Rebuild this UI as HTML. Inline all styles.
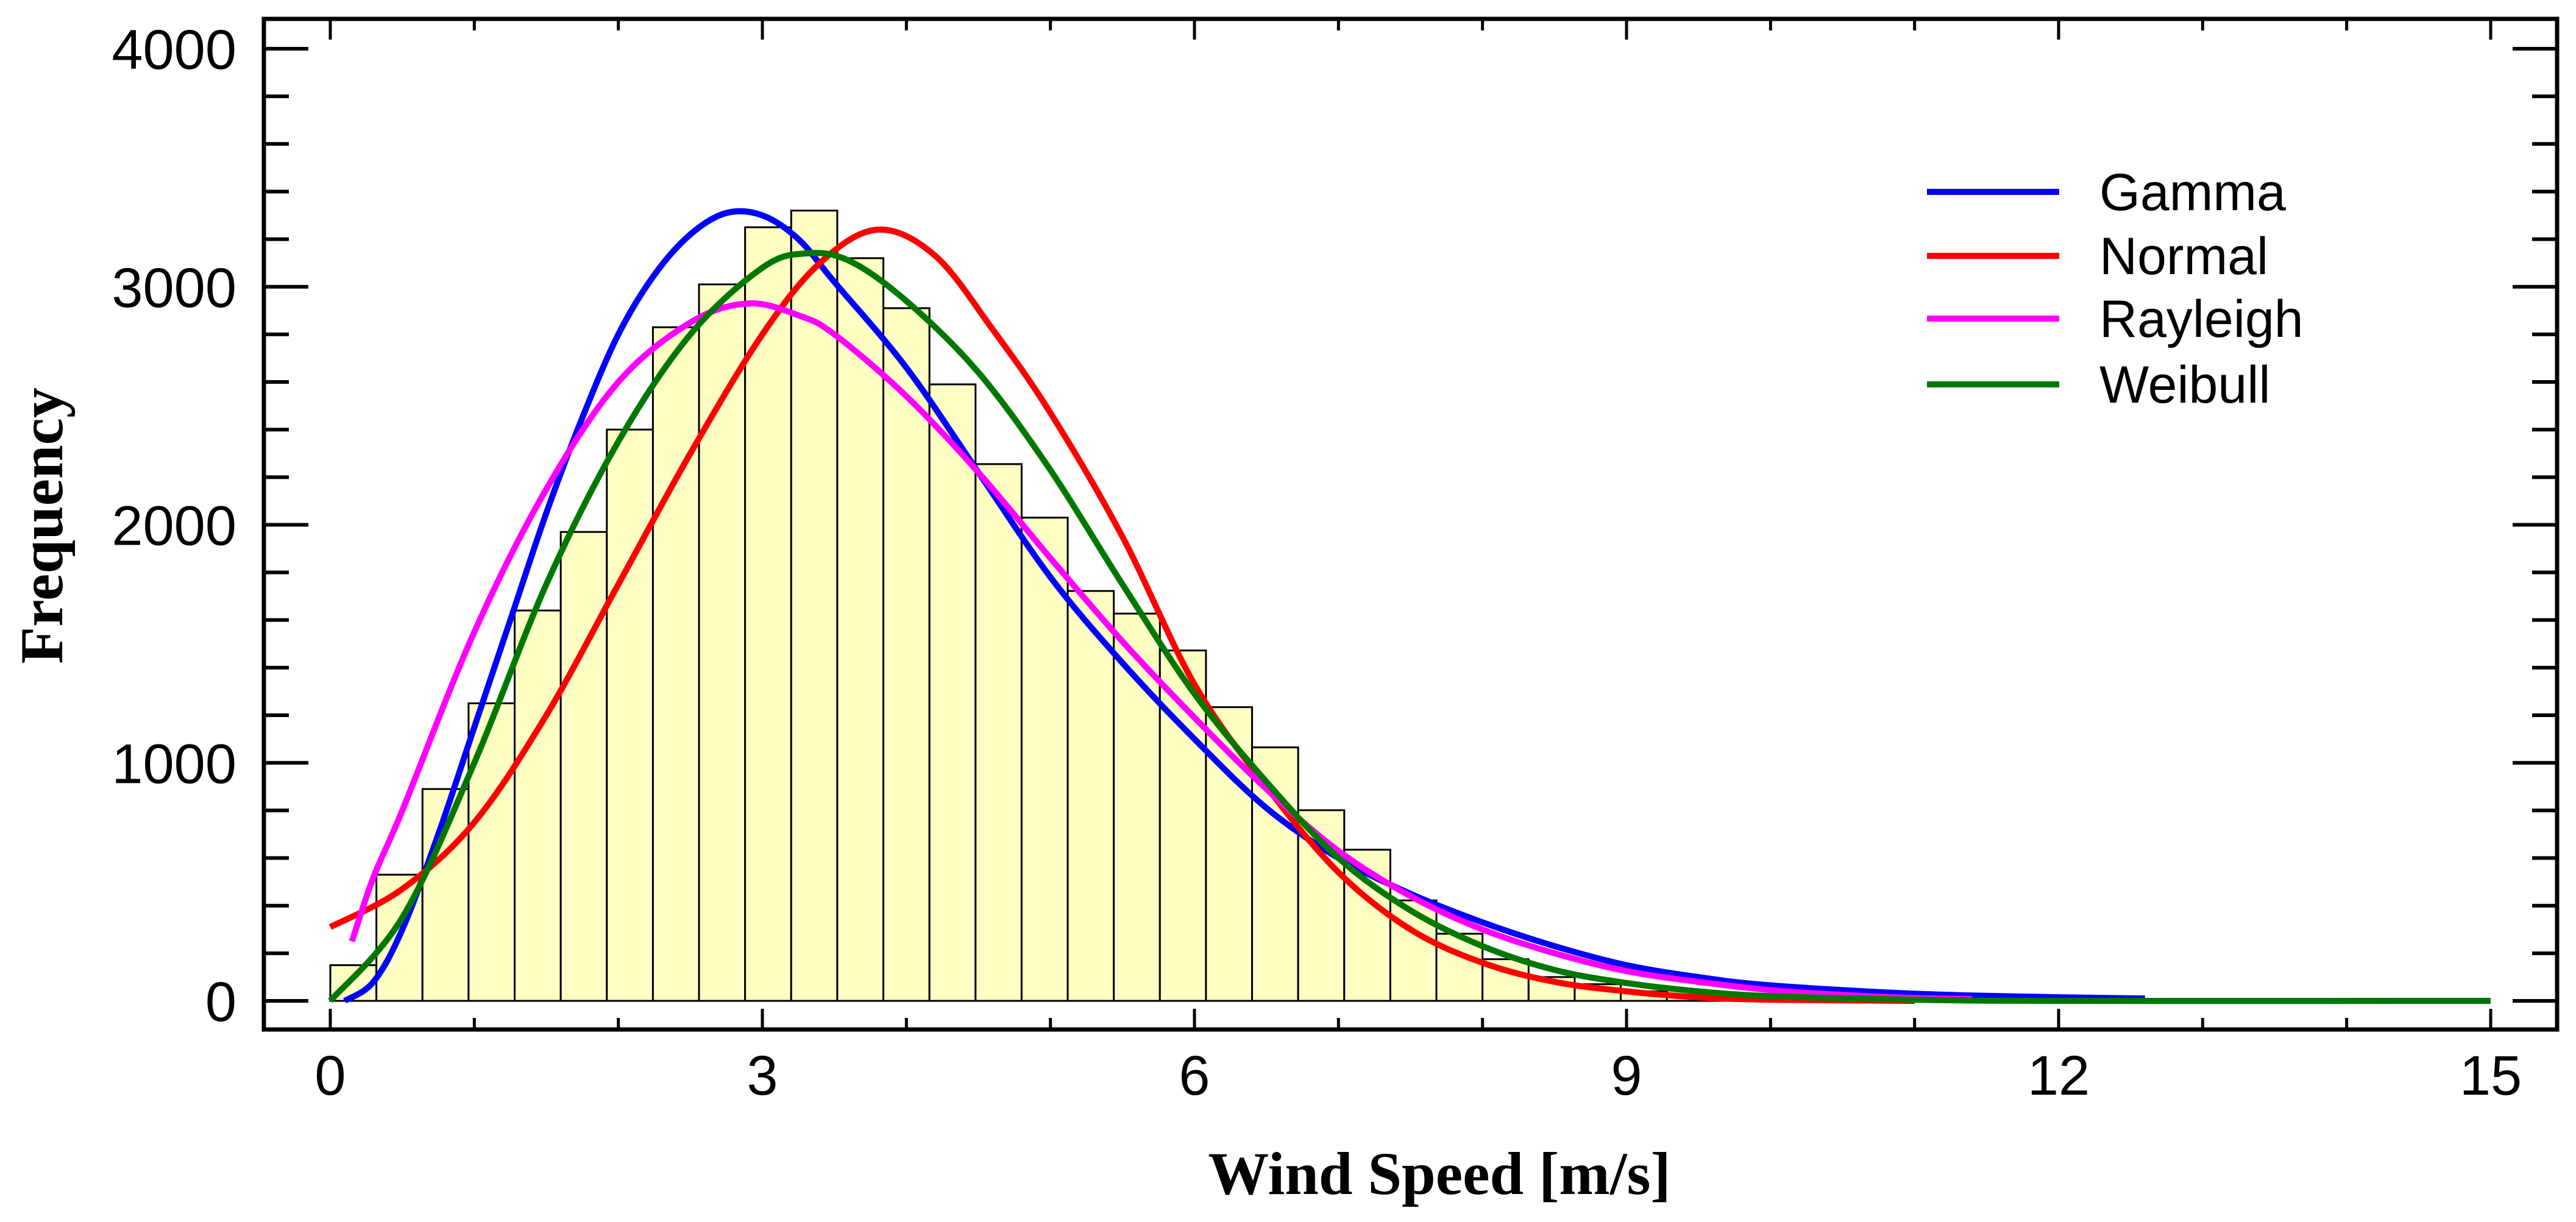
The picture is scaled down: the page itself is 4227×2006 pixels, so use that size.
<!DOCTYPE html>
<html><head><meta charset="utf-8"><style>
html,body{margin:0;padding:0;background:#fff;}
svg{display:block;}
</style></head><body>
<svg id="chart" width="4227" height="2006" viewBox="0 0 4227 2006" xmlns="http://www.w3.org/2000/svg">
<rect x="0" y="0" width="4227" height="2006" fill="#fff"/>
<g id="bars"></g>
<g id="curves"></g>
<g id="axes"></g>
<g id="legend"></g>
<text x="2362" y="1960" text-anchor="middle" font-family="'Liberation Serif', serif" font-weight="bold" font-size="100">Wind Speed [m/s]</text>
<text x="0" y="0" transform="translate(102,863) rotate(-90)" text-anchor="middle" font-family="'Liberation Serif', serif" font-weight="bold" font-size="100">Frequency</text>
</svg>
<script>
const binWidth = 0.32;
const binCounts = [150,530,890,1250,1640,1970,2400,2830,3010,3250,3320,3120,2910,2590,2255,2030,1722,1627,1472,1234,1065,801,635,422,282,175,100,70,40,25,15,10,8,5,3,2];
const gammaX = [0.1,0.3,0.5,0.75,1.0,1.25,1.5,1.75,2.0,2.25,2.5,2.75,3.0,3.25,3.5,4.0,4.5,5.0,5.5,6.0,6.5,7.0,7.5,8.0,8.5,9.0,9.5,10,11,12,12.6];
const gammaY = [0,80,300,700,1150,1600,2050,2450,2800,3050,3220,3310,3300,3200,3020,2660,2220,1780,1420,1100,810,600,450,330,230,150,100,65,30,15,10];
const normalX = [0,0.5,1,1.5,2,2.5,3,3.4,3.8,4.2,4.6,5,5.5,6,6.5,7,7.5,8,8.5,9,9.5,10,11];
const normalY = [310,470,750,1200,1750,2300,2800,3100,3240,3130,2820,2470,1950,1330,900,540,300,160,80,40,15,5,0];
const rayleighX = [0.15,0.3,0.5,1.0,1.5,2.0,2.5,2.9,3.25,3.5,4,4.5,5,5.5,6,6.5,7,7.5,8,8.5,9,9.5,10,10.5,11,11.4];
const rayleighY = [250,520,800,1550,2150,2600,2850,2930,2880,2800,2540,2220,1860,1510,1190,890,630,440,300,200,125,80,45,25,12,8];
const weibullX = [0,0.5,1,1.5,2,2.5,3,3.3,3.6,4,4.5,5,5.5,6,6.5,7,7.5,8,8.5,9,9.5,10,11,12,15];
const weibullY = [0,350,1000,1750,2350,2800,3080,3140,3110,2940,2640,2230,1750,1290,920,600,380,230,130,75,40,20,5,0,0];
const seriesNames = ["Gamma","Normal","Rayleigh","Weibull"];
const yTicks = [0,1000,2000,3000,4000];
const xTicks = [0,3,6,9,12,15];

const NS = "http://www.w3.org/2000/svg";
const L=433,R=4196,T=31,B=1690;
const X0=542,X1=4087,Y0=1643,Y1=80;
function sx(v){return X0+(X1-X0)*v/15;}
function sy(v){return Y0+(Y1-Y0)*v/4000;}
function mk(tag,attrs,parent){const e=document.createElementNS(NS,tag);for(const k in attrs)e.setAttribute(k,attrs[k]);parent.appendChild(e);return e;}

const gb=document.getElementById('bars');
binCounts.forEach((c,i)=>{
  const x0=sx(i*binWidth),x1=sx((i+1)*binWidth);
  const r=mk('rect',{x:x0,y:sy(c),width:x1-x0,height:sy(0)-sy(c),fill:'#ffffc4',stroke:'#000','stroke-width':3},gb);
  
  
});

const gc=document.getElementById('curves');
const curves=[[gammaX,gammaY,'#0000ff','gamma-curve'],[normalX,normalY,'#ff0000','normal-curve'],[rayleighX,rayleighY,'#ff00ff','rayleigh-curve'],[weibullX,weibullY,'#007800','weibull-curve']];
function smoothPath(xs,ys){
  const p=xs.map((x,i)=>[sx(x),sy(ys[i])]);
  let d='M'+p[0][0]+','+p[0][1];
  for(let i=0;i<p.length-1;i++){
    const p0=p[Math.max(0,i-1)],p1=p[i],p2=p[i+1],p3=p[Math.min(p.length-1,i+2)];
    const c1=[p1[0]+(p2[0]-p0[0])/6,p1[1]+(p2[1]-p0[1])/6];
    const c2=[p2[0]-(p3[0]-p1[0])/6,p2[1]-(p3[1]-p1[1])/6];
    d+=' C'+c1[0]+','+c1[1]+' '+c2[0]+','+c2[1]+' '+p2[0]+','+p2[1];
  }
  return d;
}
curves.forEach(cv=>{
  const p=mk('path',{d:smoothPath(cv[0],cv[1]),fill:'none',stroke:cv[2],'stroke-width':10,'stroke-linejoin':'round'},gc);
  
  
});

const ga=document.getElementById('axes');
const fr=mk('rect',{x:L,y:T,width:R-L,height:B-T,fill:'none',stroke:'#000','stroke-width':7},ga);


for(let v=0;v<=4000;v+=200){
  const major=v%1000===0,len=major?73:41,y=sy(v);
  mk('line',{x1:L,y1:y,x2:L+len,y2:y,stroke:'#000','stroke-width':6},ga);
  mk('line',{x1:R,y1:y,x2:R-len,y2:y,stroke:'#000','stroke-width':6},ga);
}
for(let v=0;v<=15;v+=1){
  const major=v%3===0,len=major?34:19,x=sx(v);
  mk('line',{x1:x,y1:B,x2:x,y2:B-len,stroke:'#000','stroke-width':5},ga);
  mk('line',{x1:x,y1:T,x2:x,y2:T+len,stroke:'#000','stroke-width':5},ga);
}
yTicks.forEach(v=>{
  const t=mk('text',{x:388,y:sy(v)+33,'text-anchor':'end','font-family':"'Liberation Sans', sans-serif",'font-size':92},ga);
  t.textContent=v;
  
  
});
xTicks.forEach(v=>{
  const t=mk('text',{x:sx(v),y:1797,'text-anchor':'middle','font-family':"'Liberation Sans', sans-serif",'font-size':92},ga);
  t.textContent=v;
  
  
});

const gl=document.getElementById('legend');
const legY=[315,420,523,631];
seriesNames.forEach((n,i)=>{
  const ln=mk('line',{x1:3162,y1:legY[i],x2:3379,y2:legY[i],stroke:curves[i][2],'stroke-width':10},gl);
  
  
  const t=mk('text',{x:3445,y:legY[i]+30,'font-family':"'Liberation Sans', sans-serif",'font-size':86},gl);
  t.textContent=n;
  
  
});
</script>
</body></html>
